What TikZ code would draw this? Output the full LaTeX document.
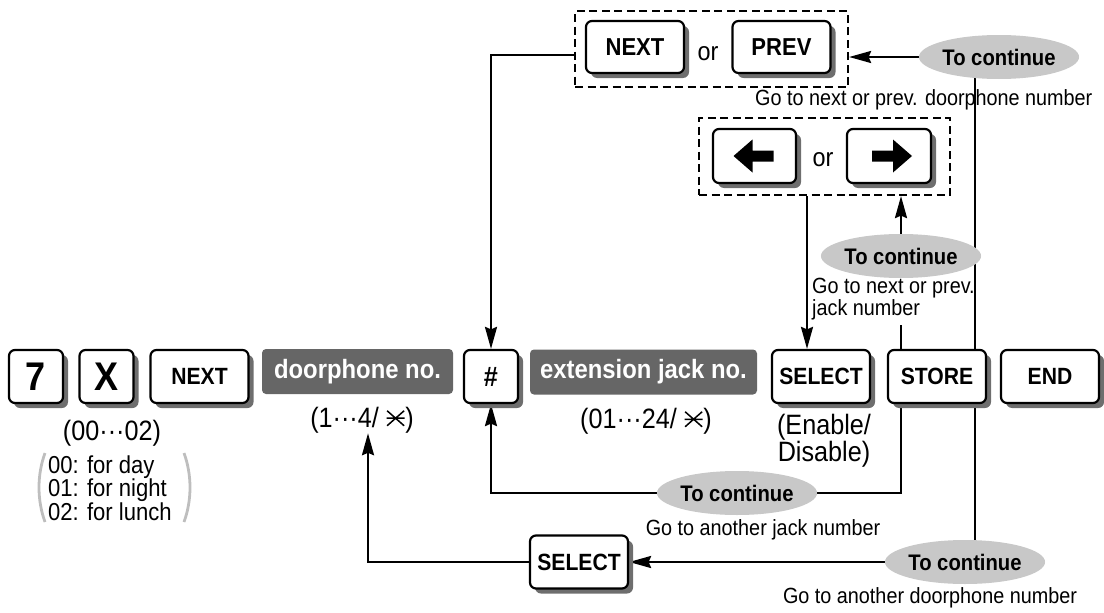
\documentclass[tikz,border=0pt]{standalone}
\usepackage{fontspec}
\setmainfont{Liberation Sans}[FakeStretch=0.9]
\usepackage{tikz}
\usetikzlibrary{arrows.meta,shapes.geometric,shadows,backgrounds}

\definecolor{keyshadow}{RGB}{110,110,110}
\definecolor{tagfill}{RGB}{102,102,102}
\definecolor{contfill}{RGB}{200,200,200}
\definecolor{parengray}{RGB}{190,190,190}

\newcommand{\fsz}[2]{\fontsize{#1}{#2}\selectfont}
% star key symbol (x with a bar), no font has it
\newcommand{\starkey}{\tikz[baseline={(0pt,-9pt)}, line width=1.5pt]{%
  \draw (-8.5pt,-7.5pt) -- (8.5pt,7.5pt) (-8.5pt,7.5pt) -- (8.5pt,-7.5pt)
    (-9pt,0pt) -- (9pt,0pt);}}

\tikzset{
  keycap/.style={draw, line width=2.2pt, rounded corners=6pt, fill=white,
    minimum height=53pt, inner sep=0pt, font=\bfseries\fsz{23.5}{26},
    drop shadow={shadow xshift=5pt, shadow yshift=-5pt, opacity=1, fill=keyshadow}},
  smallkey/.style={keycap, minimum width=54pt},
  widekey/.style={keycap, minimum width=98pt},
  tag/.style={fill=tagfill, rounded corners=4pt, text=white,
    font=\bfseries\fsz{26.5}{29}, inner sep=0pt, minimum height=45pt},
  cont/.style={ellipse, fill=contfill, font=\bfseries\fsz{22.5}{25},
    inner sep=0pt, minimum width=143pt, minimum height=44pt},
  grpbox/.style={draw, dash pattern=on 8pt off 4.5pt, line width=2.2pt, inner sep=0pt},
  note/.style={font=\fsz{22}{22}, inner sep=0pt},
  rangetxt/.style={font=\fsz{28}{27}, inner sep=0pt},
  wire/.style={line width=2.3pt},
  arr/.style={wire, -{Stealth[length=22pt,width=12pt,inset=2.5pt]}},
}

\begin{document}
\begin{tikzpicture}[x=1pt,y=-1pt]
\useasboundingbox (0,0) rectangle (1104,613);

% main row
\node[smallkey, font=\bfseries\fsz{40}{44}] (k7) at (36,376.5) {7};
\node[smallkey, font=\bfseries\fsz{40}{44}] (kX) at (106.5,376.5) {X};
\node[widekey] (kNext) at (199.5,376.5) {NEXT};
\node[tag, minimum width=191pt] (tDoor) at (357.5,371.5) {doorphone no.};
\node[smallkey, font=\bfseries\fsz{28}{30}] (kHash) at (491,376.5) {\#};
\node[tag, minimum width=227pt] (tJack) at (643.5,372) {extension jack no.};
\node[widekey] (kSel) at (821,376.5) {SELECT};
\node[widekey] (kStore) at (937,376.5) {STORE};
\node[widekey] (kEnd) at (1050,376.5) {END};

% NEXT or PREV
\node[widekey, minimum height=52pt, font=\bfseries\fsz{24.5}{26}] (kNext2) at (635,47) {NEXT};
\node[font=\fsz{26}{28}, inner sep=0pt] (or1) at (708,54) {or};
\node[widekey, minimum height=52pt, font=\bfseries\fsz{24.5}{26}] (kPrev) at (781.5,47) {PREV};
\node[grpbox, minimum width=273pt, minimum height=76pt] (grpTop) at (711.5,49) {};

% left or right
\node[keycap, minimum width=83pt, minimum height=54pt] (kLeft) at (754.5,156) {};
\node[font=\fsz{26}{28}, inner sep=0pt] (or2) at (823,160) {or};
\node[keycap, minimum width=84pt, minimum height=54pt] (kRight) at (889,156) {};
\node[grpbox, minimum width=251pt, minimum height=77pt] (grpMid) at (824.5,156.5) {};
\fill[shift={(kLeft.center)}] (-21,0) -- (-2,-16.5) -- (-2,-5.5) -- (19,-5.5)
  -- (19,5.5) -- (-2,5.5) -- (-2,16.5) -- cycle;
\fill[shift={(kRight.center)}] (23,0) -- (4,-16.5) -- (4,-5.5) -- (-17,-5.5)
  -- (-17,5.5) -- (4,5.5) -- (4,16.5) -- cycle;

% to continue
\node[cont] (cont1) at (999,57) {To continue};
\node[cont] (cont2) at (901,256) {To continue};
\node[cont] (cont3) at (737,493) {To continue};
\node[cont] (cont4) at (965,562) {To continue};
\node[widekey] (kSelB) at (579,562) {SELECT};

% notes
\node[note, anchor=west] (nDoor2) at (755,100) {Go to next or prev. doorphone number};
\node[note, anchor=west, align=left] (nJack2) at (812,299) {Go to next or prev.\\jack number};
\node[note] (nJack) at (763,530) {Go to another jack number};
\node[note] (nDoor) at (930,598) {Go to another doorphone number};

\node[rangetxt] (rTime) at (112,433) {(00···02)};
\node[anchor=west, align=left, font=\fsz{24.5}{23.5}, inner sep=0pt] (lTime) at (48,488)
  {00: for day\\01: for night\\02: for lunch};
\draw[parengray, line width=2.8pt] (45,453) .. controls (37,475) and (37,500) .. (45,522);
\draw[parengray, line width=2.8pt] (184,453) .. controls (192,475) and (192,500) .. (184,522);
\node[rangetxt] (rDoor) at (362,420) {(1···4/ \starkey)};
\node[rangetxt] (rJack) at (646,421) {(01···24/ \starkey)};
\node[rangetxt, align=center] (rSel) at (824,441) {(Enable/\\Disable)};

% connectors
\begin{scope}[on background layer]
\draw[arr] ([yshift=-6pt]grpTop.west) -| (kHash);
\draw[arr] (cont1) -- (cont1 -| grpTop.east);
\draw[wire] ([xshift=-24pt]cont1.center) -- ([xshift=-24pt]cont1.center |- cont4.center);
\draw[arr] (cont4) -- (kSelB);
\draw[arr] (kSelB) -| ([xshift=6pt]rDoor.south);
\draw[arr] ([xshift=-36pt]kStore.center) |- (cont3.center) -| (kHash);
\draw[wire] ([xshift=-36pt]kStore.center) -- ([xshift=-36pt,yshift=-5pt]kStore.center |- nJack2.south);
\draw[arr] (cont2) -- (cont2 |- grpMid.south);
\draw[arr] ([xshift=-14pt]kSel.center |- grpMid.south) -- ([xshift=-14pt]kSel.north);
\end{scope}
\end{tikzpicture}
\end{document}
